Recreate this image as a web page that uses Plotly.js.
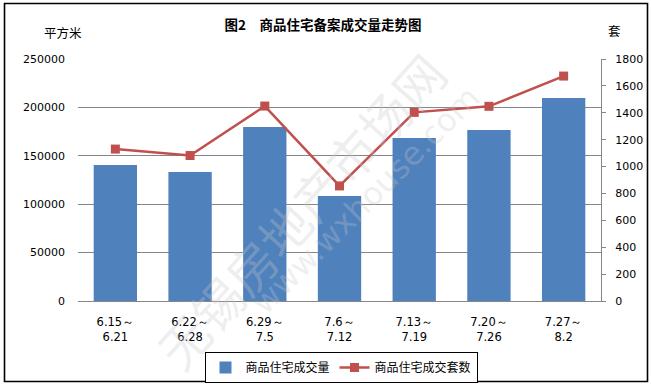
<!DOCTYPE html>
<html>
<head>
<meta charset="utf-8">
<script src="https://cdn.plot.ly/plotly-3.0.1.min.js"></script>
<style>html,body{margin:0;padding:0;background:#fff;}#chart{width:651px;height:386px;}</style>
</head>
<body>
<div id="chart"></div>
<script>
// Data
const categories = ['6.15～<br>6.21', '6.22～<br>6.28', '6.29～<br>7.5', '7.6～<br>7.12', '7.13～<br>7.19', '7.20～<br>7.26', '7.27～<br>8.2'];
const areaValues = [140500, 133200, 179800, 108500, 168400, 176600, 209700];   // 商品住宅成交量 (平方米)
const unitValues = [1130, 1082, 1450, 856, 1403, 1448, 1673];                  // 商品住宅成交套数 (套)
const leftTicks = [0, 50000, 100000, 150000, 200000, 250000];
const rightTicks = [0, 200, 400, 600, 800, 1000, 1200, 1400, 1600, 1800];

const L = 78, R = 50, T = 59, B = 85, W = 651, H = 386;
const PW = W - L - R, PH = H - T - B;
const px = x => (x - L) / PW;
const py = y => (H - B - y) / PH;

const numFont = {family: 'DejaVu Sans, Verdana, sans-serif', size: 11, color: '#000'};
const cjk = 'Noto Sans CJK SC, sans-serif';

const traces = [
  {
    type: 'bar', x: categories, y: areaValues, name: '商品住宅成交量',
    marker: {color: '#4F81BD'}, yaxis: 'y'
  },
  {
    type: 'scatter', mode: 'lines+markers', x: categories, y: unitValues, name: '商品住宅成交套数',
    line: {color: '#C0504D', width: 2.5}, marker: {symbol: 'square', size: 9, color: '#C0504D'}, yaxis: 'y2'
  }
];

const layout = {
  width: W, height: H,
  margin: {l: L, r: R, t: T, b: B, autoexpand: false},
  paper_bgcolor: '#fff', plot_bgcolor: '#fff',
  bargap: 0.42,
  showlegend: true,
  title: {
    text: '<b>图2　商品住宅备案成交量走势图</b>',
    font: {family: cjk, size: 13.5, color: '#000'},
    xref: 'container', yref: 'container', x: 323 / W, y: 1 - 25 / H, xanchor: 'center', yanchor: 'middle'
  },
  xaxis: {
    type: 'category', tickfont: {family: 'DejaVu Sans, Verdana, sans-serif', size: 11.5, color: '#000'},
    showgrid: false, showline: true, linecolor: '#868686', linewidth: 1,
    ticks: '', ticklabelstandoff: 10, fixedrange: true, automargin: false
  },
  yaxis: {
    range: [0, 250000], tickvals: leftTicks, ticktext: leftTicks.map(String),
    tickfont: numFont, showgrid: true, gridcolor: '#868686', gridwidth: 1,
    showline: false, zeroline: false, ticks: '', ticklabelstandoff: 12, automargin: false
  },
  yaxis2: {
    range: [0, 1800], tickvals: rightTicks, ticktext: rightTicks.map(String),
    overlaying: 'y', side: 'right', tickfont: numFont, showgrid: false,
    showline: true, linecolor: '#868686', linewidth: 1, zeroline: false,
    ticks: 'outside', ticklen: 4, tickcolor: '#868686', ticklabelstandoff: 7, automargin: false
  },
  legend: {
    orientation: 'h', x: px(341), xanchor: 'center', y: py(352), yanchor: 'top',
    bordercolor: '#000', borderwidth: 1, bgcolor: '#fff',
    font: {family: cjk, size: 12, color: '#000'}, itemwidth: 30, tracegroupgap: 0
  },
  annotations: [
    {text: '平方米', xref: 'paper', yref: 'paper', x: px(63), y: py(32), showarrow: false,
     font: {family: cjk, size: 12.5, color: '#000'}, xanchor: 'center', yanchor: 'middle'},
    {text: '套', xref: 'paper', yref: 'paper', x: px(614), y: py(31), showarrow: false,
     font: {family: cjk, size: 12.5, color: '#000'}, xanchor: 'center', yanchor: 'middle'},
    {text: '无锡房地产市场网', xref: 'paper', yref: 'paper', x: px(300), y: py(210), showarrow: false,
     textangle: -48, font: {family: cjk, size: 50, color: 'rgba(200,200,200,0.3)'}},
    {text: 'www.wxhouse.com', xref: 'paper', yref: 'paper', x: px(366), y: py(200), showarrow: false,
     textangle: -45, font: {family: 'DejaVu Sans, sans-serif', size: 32, color: 'rgba(200,200,200,0.3)'}}
  ],
  shapes: [
    {type: 'rect', xref: 'paper', yref: 'paper', x0: px(4.5), x1: px(647.5), y0: py(381.5), y1: py(3.5),
     line: {color: '#000', width: 1.6}, fillcolor: 'rgba(0,0,0,0)', layer: 'above'}
  ]
};

Plotly.newPlot('chart', traces, layout, {displayModeBar: false, staticPlot: true});
</script>
</body>
</html>
